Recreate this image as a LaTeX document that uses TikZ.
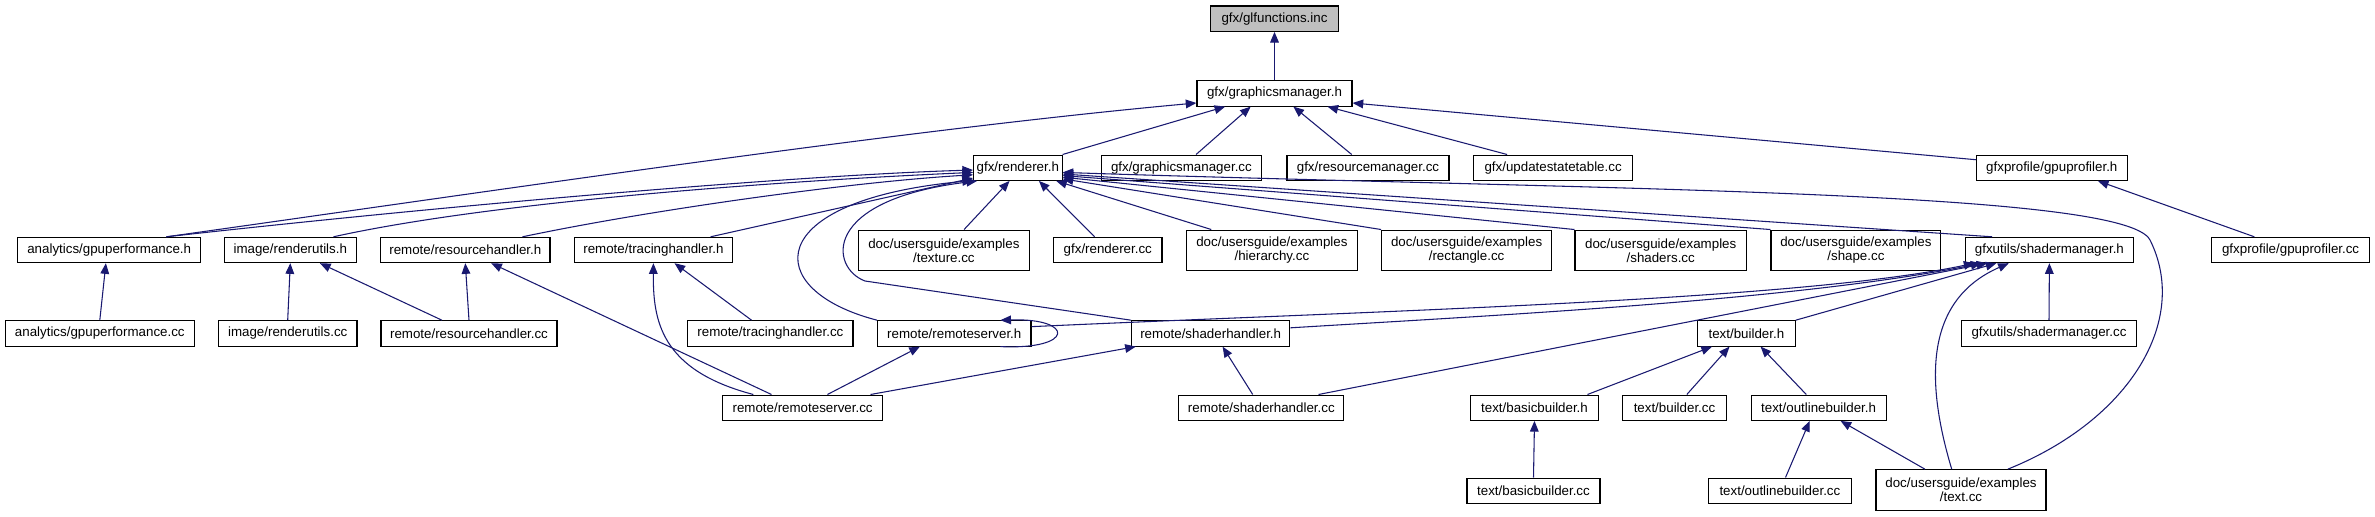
\documentclass[tikz,border=0pt]{standalone}
\usepackage{fontspec}
\setmainfont{Liberation Sans}
\usetikzlibrary{arrows.meta}
\definecolor{EdgeBlue}{RGB}{25,25,112}
\definecolor{RootGray}{RGB}{191,191,191}
\tikzset{
  incl/.style={-{Triangle[length=8pt,width=6.5pt]},line width=0.8pt,draw=EdgeBlue},
  filebox/.style={draw=black,fill=white,line width=0.8pt,inner sep=0pt,
    minimum height=19pt,align=center,font=\fontsize{10pt}{10.5pt}\selectfont},
  rootbox/.style={filebox,fill=RootGray},
  docbox/.style={filebox,minimum height=30.5pt},
  boxw/.style={minimum width=#1*0.75pt}
}
\begin{document}
\begin{tikzpicture}[x=0.75pt,y=-0.75pt]
  \useasboundingbox (0,0) rectangle (2375,517);

  \node[rootbox,boxw=127.6] (glfunctions) at (1274.5,18.7) {gfx/glfunctions.inc};
  \node[filebox,boxw=155] (graphicsmgr) at (1274.5,93.4) {gfx/graphicsmanager.h};

  \node[filebox,boxw=88.5] (renderer) at (1017.8,167.7) {gfx/renderer.h};
  \node[filebox,boxw=160.7] (graphicsmgrcc) at (1181.4,167.7) {gfx/graphicsmanager.cc};
  \node[filebox,boxw=162] (resourcemgrcc) at (1368,167.7) {gfx/resourcemanager.cc};
  \node[filebox,boxw=159.2] (updatecc) at (1553.1,167.7) {gfx/updatestatetable.cc};
  \node[filebox,boxw=150.5] (gpuprofiler) at (2051.8,167.7) {gfxprofile/gpuprofiler.h};

  \node[filebox,boxw=182.6] (gpuperf) at (109.2,250) {analytics/gpuperformance.h};
  \node[filebox,boxw=131.5] (renderutils) at (290.3,250) {image/renderutils.h};
  \node[filebox,boxw=169.4] (reshandler) at (465.3,250) {remote/resourcehandler.h};
  \node[filebox,boxw=158.7] (tracing) at (653.4,250) {remote/tracinghandler.h};
  \node[docbox,boxw=170.3] (texture) at (943.9,250.4) {doc/usersguide/examples\\/texture.cc};
  \node[filebox,boxw=108.4] (renderercc) at (1107.8,250) {gfx/renderer.cc};
  \node[docbox,boxw=170.3] (hierarchy) at (1271.9,250.4) {doc/usersguide/examples\\/hierarchy.cc};
  \node[docbox,boxw=169.9] (rectangle) at (1466.6,250.4) {doc/usersguide/examples\\/rectangle.cc};
  \node[docbox,boxw=171.4] (shaders) at (1660.7,250.4) {doc/usersguide/examples\\/shaders.cc};
  \node[docbox,boxw=169.8] (shape) at (1855.9,250.4) {doc/usersguide/examples\\/shape.cc};
  \node[filebox,boxw=168.7] (shadermgr) at (2049.4,250) {gfxutils/shadermanager.h};
  \node[filebox,boxw=157.7] (gpuprofilercc) at (2290.6,250) {gfxprofile/gpuprofiler.cc};

  \node[filebox,boxw=189.3] (gpuperfcc) at (99.8,333.4) {analytics/gpuperformance.cc};
  \node[filebox,boxw=138.6] (renderutilscc) at (287.7,333.4) {image/renderutils.cc};
  \node[filebox,boxw=176] (reshandlercc) at (469,333.4) {remote/resourcehandler.cc};
  \node[filebox,boxw=165.2] (tracingcc) at (770.4,333.4) {remote/tracinghandler.cc};
  \node[filebox,boxw=153.4] (remoteserver) at (954.3,333.4) {remote/remoteserver.h};
  \node[filebox,boxw=158.2] (shaderhandler) at (1210.7,333.4) {remote/shaderhandler.h};
  \node[filebox,boxw=98] (builder) at (1746.4,333.4) {text/builder.h};
  \node[filebox,boxw=174.5] (shadermgrcc) at (2049,333.4) {gfxutils/shadermanager.cc};

  \node[filebox,boxw=160.3] (remoteservercc) at (802.6,407.7) {remote/remoteserver.cc};
  \node[filebox,boxw=165.3] (shaderhandlercc) at (1261.3,407.7) {remote/shaderhandler.cc};
  \node[filebox,boxw=128] (basicbuilder) at (1534.5,407.7) {text/basicbuilder.h};
  \node[filebox,boxw=104] (buildercc) at (1674.5,407.7) {text/builder.cc};
  \node[filebox,boxw=135] (outlinebuilder) at (1818.6,407.7) {text/outlinebuilder.h};

  \node[filebox,boxw=133] (basicbuildercc) at (1533.5,490.7) {text/basicbuilder.cc};
  \node[filebox,boxw=142.3] (outlinebuildercc) at (1779.9,490.7) {text/outlinebuilder.cc};
  \node[docbox,boxw=170] (textcc) at (1961,490) {doc/usersguide/examples\\/text.cc};

  \draw[incl] (graphicsmgr.north) -- (glfunctions.south);
  \draw[incl] (renderer.north east) -- (graphicsmgr.195);
  \draw[incl] (graphicsmgrcc.42) -- (graphicsmgr.209);
  \draw[incl] (resourcemgrcc.141) -- (graphicsmgr.325);
  \draw[incl] (updatecc.164) -- (graphicsmgr.346);
  \draw[incl] (gpuprofiler.174) -- (graphicsmgr.353);
  \draw[incl] (gpuperf.13) .. controls (500,190) and (900,130) .. (graphicsmgr.187);
  \draw[incl] (gpuprofilercc.160) -- (gpuprofiler.344);

  \draw[incl] (gpuperf.13) .. controls (450,205) and (800,175) .. (renderer.183);
  \draw[incl] (renderutils.17) .. controls (500,200) and (800,180) .. (renderer.186);
  \draw[incl] (reshandler.13) .. controls (650,210) and (850,182) .. (renderer.189);
  \draw[incl] (tracing.13) -- (renderer.193);
  \draw[incl] (remoteserver.north west) .. controls (760,290) and (760,200) .. (renderer.196);
  \draw[incl] (shaderhandler.north west) -- (865,281) .. controls (830,268) and (820,200) .. (renderer.198);
  \draw[incl] (texture.46) -- (renderer.238);
  \draw[incl] (renderercc.135) -- (renderer.328);
  \draw[incl] (hierarchy.161) -- (renderer.341);
  \draw[incl] (rectangle.north west) -- (renderer.346);
  \draw[incl] (shaders.north west) -- (renderer.348);
  \draw[incl] (shape.north west) -- (renderer.350);
  \draw[incl] (shadermgr.167) -- (renderer.352);
  \draw[incl] (textcc.24) .. controls (2130,420) and (2190,320) .. (2150,240)
    .. controls (2125,190) and (1600,190) .. (renderer.354);

  \draw[incl] (gpuperfcc.north) -- (gpuperf.256);
  \draw[incl] (renderutilscc.north) -- (renderutils.south);
  \draw[incl] (reshandlercc.154) -- (renderutils.336);
  \draw[incl] (reshandlercc.north) -- (reshandler.south);
  \draw[incl] (remoteservercc.157) -- (reshandler.333);
  \draw[incl] (remoteservercc.165) .. controls (660,370) and (653,320) .. (tracing.south);
  \draw[incl] (tracingcc.145) -- (tracing.328);

  \draw[incl] (remoteserver.344) .. controls (1075,350) and (1075,318) .. (remoteserver.16);
  \draw[incl] (remoteservercc.28) -- (remoteserver.201);
  \draw[incl] (remoteservercc.11) -- (shaderhandler.190);
  \draw[incl] (shaderhandlercc.123) -- (shaderhandler.312);
  \draw[incl] (remoteserver.5) .. controls (1400,310) and (1800,300) .. (shadermgr.190);
  \draw[incl] (shaderhandler.4) .. controls (1500,315) and (1800,300) .. (shadermgr.191);
  \draw[incl] (shaderhandlercc.13) -- (shadermgr.192);
  \draw[incl] (builder.15) -- (shadermgr.194);
  \draw[incl] (textcc.114) .. controls (1925,380) and (1925,300) .. (shadermgr.198);
  \draw[incl] (shadermgrcc.north) -- (shadermgr.south);

  \draw[incl] (basicbuilder.14) -- (builder.201);
  \draw[incl] (buildercc.47) -- (builder.218);
  \draw[incl] (outlinebuilder.133) -- (builder.317);
  \draw[incl] (basicbuildercc.north) -- (basicbuilder.south);
  \draw[incl] (outlinebuildercc.67) -- (outlinebuilder.236);
  \draw[incl] (textcc.150) -- (outlinebuilder.329);
\end{tikzpicture}
\end{document}
